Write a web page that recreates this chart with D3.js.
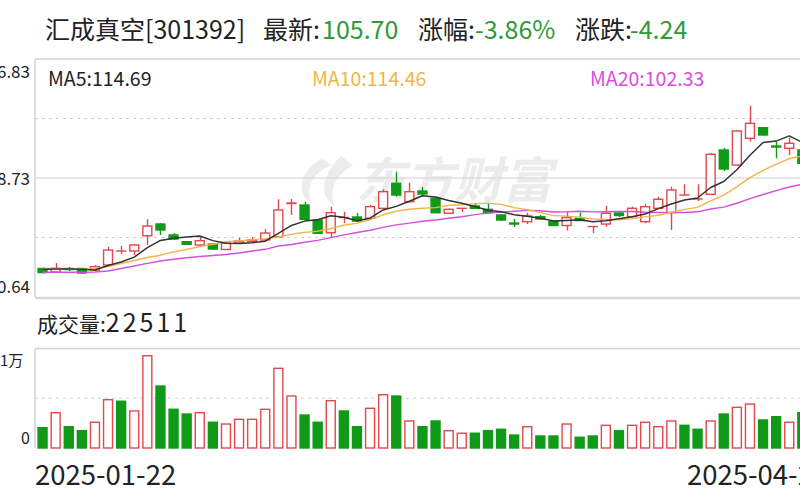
<!DOCTYPE html>
<html><head><meta charset="utf-8">
<script src="https://cdn.jsdelivr.net/npm/d3@7"></script>
<style>html,body{margin:0;padding:0;background:#fff;overflow:hidden}</style>
</head><body>
<svg id="c" width="800" height="500"></svg>
<script>
const dates = ["2025-01-22","2025-01-23","2025-01-24","2025-01-27","2025-02-05","2025-02-06","2025-02-07","2025-02-10","2025-02-11","2025-02-12",
"2025-02-13","2025-02-14","2025-02-17","2025-02-18","2025-02-19","2025-02-20","2025-02-21","2025-02-24","2025-02-25","2025-02-26",
"2025-02-27","2025-02-28","2025-03-03","2025-03-04","2025-03-05","2025-03-06","2025-03-07","2025-03-10","2025-03-11","2025-03-12",
"2025-03-13","2025-03-14","2025-03-17","2025-03-18","2025-03-19","2025-03-20","2025-03-21","2025-03-24","2025-03-25","2025-03-26",
"2025-03-27","2025-03-28","2025-03-31","2025-04-01","2025-04-02","2025-04-03","2025-04-07","2025-04-08","2025-04-09","2025-04-10",
"2025-04-11","2025-04-14","2025-04-15","2025-04-16","2025-04-17","2025-04-18","2025-04-21","2025-04-22","2025-04-23"];
const openP = [77.37,76.54,77.37,77.37,77.01,78.19,81.50,81.50,85.11,87.87,85.28,83.69,82.92,83.15,81.85,83.39,83.74,84.10,84.88,92.71,
92.36,88.82,85.82,89.41,89.53,89.22,91.58,97.48,93.14,95.66,93.94,90.40,91.58,92.12,91.34,90.00,88.11,88.42,89.60,88.58,
87.52,89.17,87.28,87.87,90.47,89.60,88.42,91.58,90.54,94.72,93.78,94.89,105.35,101.80,108.11,110.61,106.29,105.75,105.35];
const highP = [77.60,78.67,77.72,77.49,78.19,82.51,82.68,83.15,88.98,88.11,85.75,83.86,84.88,83.27,83.51,84.57,84.80,86.69,93.71,93.78,
93.14,89.05,91.96,90.78,90.47,92.36,96.07,100.22,97.62,96.61,94.25,91.53,91.65,92.76,92.90,90.23,89.05,90.54,90.00,88.82,
90.78,90.59,87.40,92.12,90.78,91.96,92.60,94.32,96.68,97.25,97.25,104.64,105.82,110.07,115.80,110.78,107.30,108.25,105.82];
const lowP = [76.19,76.42,76.78,76.07,76.78,77.96,80.79,80.55,82.92,85.28,84.10,82.92,82.68,81.73,81.73,83.15,83.62,83.86,84.80,90.00,
88.82,85.51,84.73,88.04,88.35,89.05,91.42,94.32,92.95,94.72,90.47,90.23,90.71,91.42,90.47,88.58,87.17,87.87,88.94,87.40,
86.34,88.58,85.75,87.24,89.53,89.53,88.04,91.42,86.46,94.60,93.30,94.72,100.39,101.57,107.30,108.77,103.39,104.16,101.80];
const closeP = [76.42,77.41,77.13,76.30,77.79,81.73,81.50,82.92,87.40,86.46,84.33,83.08,83.93,81.97,83.39,83.86,84.10,85.75,91.18,92.83,
88.98,85.68,90.54,89.41,88.58,91.96,95.50,94.72,95.50,94.96,90.54,91.34,91.58,91.58,90.54,88.82,87.87,89.76,89.05,87.52,
89.41,88.70,87.28,90.40,89.88,91.58,91.96,93.71,95.90,94.72,93.78,104.33,100.86,109.83,111.65,108.89,106.05,106.93,102.20];
const volume = [2050,3570,2150,1750,2600,4880,4720,3740,9320,6260,3910,3430,3570,2600,2420,2900,2900,3910,8050,5250,
3330,2600,4780,3740,2150,4010,5380,5250,2730,2150,2730,1750,1490,1490,1750,1890,1310,2150,1210,1210,
2420,1080,1210,2290,1750,2290,2600,2150,2730,2290,1890,2730,3430,4110,4440,2830,3160,2600,3570];
const ma5 = [77.18,77.25,77.25,77.18,77.01,78.08,78.90,80.06,82.28,84.00,84.52,84.83,85.04,83.95,83.34,83.25,83.46,83.81,85.65,87.54,
88.56,88.89,89.83,89.48,88.63,89.24,91.20,92.03,93.26,94.53,94.25,93.42,92.78,92.01,91.11,90.78,90.07,89.72,89.22,88.61,
88.72,88.89,88.39,88.65,89.12,89.57,90.21,91.51,92.60,93.56,94.01,96.49,97.91,100.69,104.09,107.12,107.45,108.67,107.14];
const ma10 = [77.37,77.30,77.25,77.25,77.30,77.84,78.55,79.26,79.96,80.51,81.29,81.85,82.54,83.10,83.67,83.88,84.14,84.43,84.80,85.44,
85.89,86.17,86.81,87.57,88.09,88.89,90.05,90.92,91.37,91.58,91.75,92.31,92.41,92.62,92.81,92.50,91.75,91.25,90.61,89.86,
89.74,89.48,89.05,88.94,88.87,89.15,89.55,89.95,90.61,91.34,91.79,93.35,94.70,96.63,98.83,100.55,101.97,103.29,103.90];
const ma20 = [76.47,76.47,76.47,76.47,76.54,76.78,77.37,77.96,78.59,79.14,79.54,79.89,80.20,80.44,80.67,81.03,81.50,81.90,82.68,83.03,
83.58,84.00,84.66,85.32,85.87,86.39,87.09,87.66,88.09,88.51,88.82,89.24,89.60,90.09,90.45,90.68,90.90,91.08,90.99,90.71,
90.73,90.90,90.73,90.78,90.82,90.82,90.64,90.59,90.61,90.59,90.75,91.42,91.86,92.78,93.85,94.84,95.76,96.61,97.25];
const priceTicks = [126.83, 98.73, 70.64];
const volTicks = [10000, 0];
const volTickLabels = ["1万", "0"];
const dateLabels = ["2025-01-22", "2025-04-25"];
const titleParts = [["汇成真空[301392]", 0], ["最新:", 0], ["105.70", 1], ["涨幅:", 0], ["-3.86%", 1], ["涨跌:", 0], ["-4.24", 1]];
const maLabels = ["MA5:114.69", "MA10:114.46", "MA20:102.33"];
const volLabelName = "成交量:";
const volLabelValue = "22511";

const FONT = "'Microsoft YaHei','Noto Sans CJK SC','Noto Sans',sans-serif";
const RED = "#e2474c", GREEN = "#0f9a17";
const MA_COLORS = ["#333333", "#f0b54a", "#d94ed9"];

const svg = d3.select("#c").style("font-family", FONT);
const L = 35, R = 800, PT = 59, PB = 297, VT = 348.5, VB = 448;

const x = d3.scaleBand().domain(dates).range([36, 36 + dates.length * 13.1]).paddingInner(0.24).paddingOuter(0.12);
const y = d3.scaleLinear().domain([priceTicks[2], priceTicks[0]]).range([PB, PT]);
const yv = d3.scaleLinear().domain([0, 10000]).range([VB, VT + 0.5]);
const bw = x.bandwidth();
const cx = i => x(dates[i]) + bw / 2;

// title
const titleX = [45, 263, 322, 418, 475, 575, 630];
svg.append("g").selectAll("text").data(titleParts).join("text")
  .attr("x", (d, i) => titleX[i]).attr("y", 39)
  .attr("font-size", 25).attr("fill", d => d[1] ? "#2f9a36" : "#222").text(d => d[0]);

// watermark
const wm = svg.append("g").attr("fill", "#ececec");
wm.append("path").attr("d", "M322,158 C298,172 296,194 312,204 C305,188 312,173 331,165 Z M341,156 C321,176 319,196 334,205 C329,188 336,175 353,165 Z");
wm.append("text").attr("x", 356).attr("y", 198).attr("font-size", 49).attr("font-weight", "bold")
  .attr("font-style", "italic").text("东方财富");

// frames & grid
const g = svg.append("g");
g.append("line").attr("x1", L).attr("x2", R).attr("y1", PT).attr("y2", PT).attr("stroke", "#d2d2d2").attr("stroke-width", 1.5);
g.append("line").attr("x1", L).attr("x2", L).attr("y1", PT).attr("y2", PB).attr("stroke", "#d2d2d2").attr("stroke-width", 1.5);
g.append("line").attr("x1", L).attr("x2", R).attr("y1", PB + 1).attr("y2", PB + 1).attr("stroke", "#d8d8d8").attr("stroke-width", 2.5);
g.append("line").attr("x1", L).attr("x2", R).attr("y1", y(priceTicks[1])).attr("y2", y(priceTicks[1])).attr("stroke", "#dedede").attr("stroke-width", 1.5);
[0.25, 0.75].forEach(f => {
  const yy = PT + (PB - PT) * f;
  g.append("line").attr("x1", L).attr("x2", R).attr("y1", yy).attr("y2", yy)
    .attr("stroke", "#cfcfcf").attr("stroke-dasharray", "3,4").attr("stroke-width", 1.2);
});
g.append("line").attr("x1", L).attr("x2", R).attr("y1", VT).attr("y2", VT).attr("stroke", "#d2d2d2").attr("stroke-width", 1.5);
g.append("line").attr("x1", L).attr("x2", L).attr("y1", VT).attr("y2", VB).attr("stroke", "#d2d2d2").attr("stroke-width", 1.5);
g.append("line").attr("x1", L).attr("x2", R).attr("y1", (VT + VB) / 2).attr("y2", (VT + VB) / 2)
  .attr("stroke", "#cfcfcf").attr("stroke-dasharray", "3,4").attr("stroke-width", 1.2);

// price axis labels (cut at left edge, as in the reference)
const pOff = [19, 7, -4];
svg.append("g").selectAll("text").data(priceTicks).join("text")
  .attr("x", 30).attr("y", (d, i) => y(d) + pOff[i]).attr("text-anchor", "end")
  .attr("font-size", 17).attr("fill", "#222").text(d => d.toFixed(2));

// MA labels
const maX = [48, 312, 590];
svg.append("g").selectAll("text").data(maLabels).join("text")
  .attr("x", (d, i) => maX[i]).attr("y", 86).attr("font-size", 19.5)
  .attr("fill", (d, i) => i === 0 ? "#222" : MA_COLORS[i]).text(d => d);

// candles
const idx = d3.range(dates.length);
const isUp = i => closeP[i] >= openP[i];
const volUp = i => closeP[i] > openP[i] || (closeP[i] === openP[i] && (i === 0 || closeP[i] >= closeP[i - 1]));
const cg = svg.append("g");
cg.selectAll("line.wick").data(idx).join("line").attr("class", "wick")
  .attr("x1", i => Math.round(cx(i)) + 0.5).attr("x2", i => Math.round(cx(i)) + 0.5)
  .attr("y1", i => y(highP[i])).attr("y2", i => y(lowP[i]))
  .attr("stroke", i => isUp(i) ? RED : GREEN).attr("stroke-width", 1.4);
cg.selectAll("rect").data(idx).join("rect")
  .attr("x", i => x(dates[i]) + 0.5)
  .attr("width", bw - 1)
  .attr("y", i => y(Math.max(openP[i], closeP[i])))
  .attr("height", i => Math.max(0.01, Math.abs(y(openP[i]) - y(closeP[i]))))
  .attr("fill", i => isUp(i) ? "#fff" : GREEN)
  .attr("stroke", i => isUp(i) ? RED : GREEN).attr("stroke-width", 1.4);

// MA lines
const line = arr => d3.line().x((d, i) => cx(i)).y(d => y(d))(arr);
[ma20, ma10, ma5].forEach((arr, j) => {
  const col = [MA_COLORS[2], MA_COLORS[1], MA_COLORS[0]][j];
  svg.append("path").attr("d", line(arr)).attr("fill", "none").attr("stroke", col)
    .attr("stroke-width", j === 2 ? 1.5 : 1.4).attr("stroke-linejoin", "round");
});

// volume
const vl = svg.append("text").attr("x", 37).attr("y", 332).attr("font-size", 21).attr("fill", "#222");
vl.append("tspan").text(volLabelName);
vl.append("tspan").attr("font-size", 25).attr("letter-spacing", 3).text(volLabelValue);
const vOff = [17, -4];
const vX = [0, 30];
const vAnchor = ["start", "end"];
svg.append("g").selectAll("text").data(volTicks).join("text")
  .attr("x", (d, i) => vX[i]).attr("y", (d, i) => yv(d) + vOff[i]).attr("text-anchor", (d, i) => vAnchor[i])
  .attr("font-size", (d, i) => i === 0 ? 15 : 16).attr("fill", "#222").text((d, i) => volTickLabels[i]);
svg.append("g").selectAll("rect").data(idx).join("rect")
  .attr("x", i => x(dates[i]) + 0.5).attr("width", bw - 1)
  .attr("y", i => yv(volume[i])).attr("height", i => VB - yv(volume[i]))
  .attr("fill", i => volUp(i) ? "#fff" : GREEN)
  .attr("stroke", i => volUp(i) ? RED : GREEN).attr("stroke-width", 1.4);

// date labels
const dateX = [35, 687];
svg.append("g").selectAll("text").data(dateLabels).join("text")
  .attr("x", (d, i) => dateX[i]).attr("y", 485).attr("font-size", 27.5).attr("fill", "#222").text(d => d);
</script>
</body></html>
